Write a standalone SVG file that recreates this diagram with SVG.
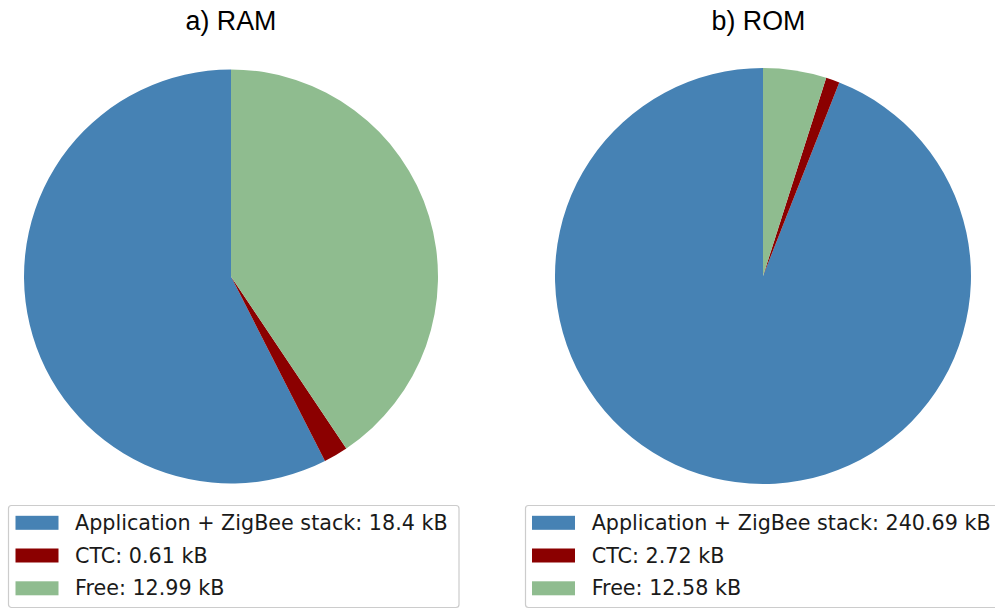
<svg xmlns="http://www.w3.org/2000/svg" width="995" height="609" viewBox="0 0 995 609">
<style>
.title{font-family:"Liberation Sans",Arial,sans-serif;font-size:26.8px;fill:#000;text-anchor:middle}
.leg{font-family:"DejaVu Sans",sans-serif;font-size:20.7px;fill:#1a1a1a}
.blue{fill:#4682B4}
.red{fill:#8B0000}
.green{fill:#8FBC8F}
.frame{fill:#fff;stroke:#cccccc;stroke-width:1.2}
</style>
<rect width="995" height="609" fill="#fff"/>
<g id="ram">
<text class="title" x="231" y="30">a) RAM</text>
<g id="ram-pie">
<path class="blue" d="M231,276.5 L231,69.5 A207,207 0 1 0 324.98,460.94 Z"/>
<path class="red" d="M231,276.5 L324.98,460.94 A207,207 0 0 0 346.34,448.39 Z"/>
<path class="green" d="M231,276.5 L346.34,448.39 A207,207 0 0 0 231,69.5 Z"/>
</g>
<g id="ram-legend">
<rect class="frame" x="8.5" y="505.5" width="450.5" height="102" rx="3"/>
<rect class="blue" x="15.5" y="515.8" width="43" height="14"/>
<rect class="red" x="15.5" y="548.5" width="43" height="14"/>
<rect class="green" x="15.5" y="581.3" width="43" height="14"/>
<text class="leg" x="75" y="529.5">Application + ZigBee stack: 18.4 kB</text>
<text class="leg" x="75" y="562.5">CTC: 0.61 kB</text>
<text class="leg" x="75" y="595.3">Free: 12.99 kB</text>
</g>
</g>
<g id="rom">
<text class="title" x="758.5" y="30">b) ROM</text>
<g id="rom-pie">
<path class="blue" d="M763,276 L763,68 A208,208 0 1 0 839.29,82.50 Z"/>
<path class="red" d="M763,276 L839.29,82.50 A208,208 0 0 0 826.21,77.84 Z"/>
<path class="green" d="M763,276 L826.21,77.84 A208,208 0 0 0 763,68 Z"/>
</g>
<g id="rom-legend">
<rect class="frame" x="525.5" y="505.5" width="480" height="102" rx="3"/>
<rect class="blue" x="532" y="515.8" width="43" height="14"/>
<rect class="red" x="532" y="548.5" width="43" height="14"/>
<rect class="green" x="532" y="581.3" width="43" height="14"/>
<text class="leg" x="591.7" y="529.5">Application + ZigBee stack: 240.69 kB</text>
<text class="leg" x="591.7" y="562.5">CTC: 2.72 kB</text>
<text class="leg" x="591.7" y="595.3">Free: 12.58 kB</text>
</g>
</g>
</svg>
